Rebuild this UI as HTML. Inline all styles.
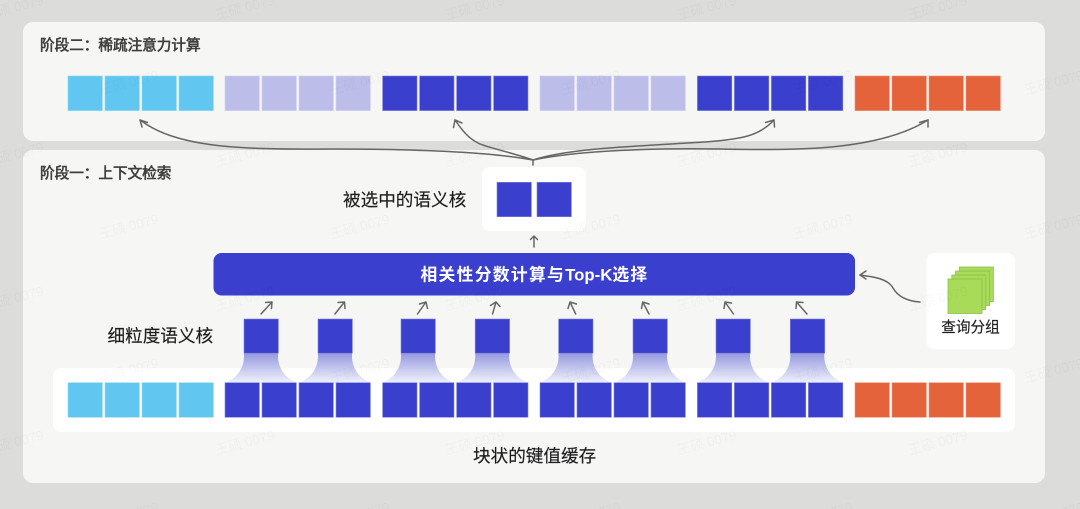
<!DOCTYPE html>
<html lang="zh">
<head>
<meta charset="utf-8">
<title>稀疏注意力</title>
<style>
html,body{margin:0;padding:0;background:#dcdcdb;width:1080px;height:509px;overflow:hidden}
svg{display:block;filter:blur(.35px)}
text{font-family:"Liberation Sans","Noto Sans CJK SC",sans-serif}
.h{font-size:14.6px;fill:#3f3f3f;stroke:#3f3f3f;stroke-width:.6}
.l{font-size:17.6px;fill:#1c1c1c;stroke:#1c1c1c;stroke-width:.15}
.w{font-size:13.5px;fill:#000;fill-opacity:.028;text-anchor:middle}
.a{fill:none;stroke:#666;stroke-width:1.5;stroke-linecap:round;stroke-linejoin:round}
</style>
</head>
<body>
<svg width="1080" height="509" viewBox="0 0 1080 509" xmlns="http://www.w3.org/2000/svg">
<defs>
<g id="c4">
<rect x="0" y="0" width="34.4" height="34.6"/>
<rect x="37" y="0" width="34.4" height="34.6"/>
<rect x="74" y="0" width="34.4" height="34.6"/>
<rect x="111" y="0" width="34.4" height="34.6"/>
</g>
<linearGradient id="f" x1="0" y1="0" x2="0" y2="1">
<stop offset="0" stop-color="#9599de"/>
<stop offset="1" stop-color="#f0f1fb"/>
</linearGradient>
<path id="fn" d="M0 0V3C0 17-9 26-19 29.7H53C43 26 34 17 34 3V0Z" fill="url(#f)"/>
</defs>

<rect width="1080" height="509" fill="#dcdcdb"/>
<rect x="23" y="22" width="1022" height="119" rx="10" fill="#f6f6f5"/>
<rect x="23" y="150" width="1022" height="333" rx="10" fill="#f6f6f5"/>

<text class="h" x="40" y="50">阶段二：稀疏注意力计算</text>
<text class="h" x="40" y="178">阶段一：上下文检索</text>

<!-- top row -->
<g stroke-width=".6">
<use href="#c4" x="68" y="76" fill="#61c7f0" stroke="#8dd7f4"/>
<use href="#c4" x="225" y="76" fill="#bcbee9" stroke="#cfd0f0"/>
<use href="#c4" x="382.6" y="76" fill="#3a3fce" stroke="#7f83dd"/>
<use href="#c4" x="540" y="76" fill="#bcbee9" stroke="#cfd0f0"/>
<use href="#c4" x="697.4" y="76" fill="#3a3fce" stroke="#7f83dd"/>
<use href="#c4" x="855" y="76" fill="#e4633a" stroke="#ec9274"/>
</g>

<!-- white band -->
<rect x="53" y="368" width="962" height="64" rx="8" fill="#fff"/>

<!-- funnels -->
<use href="#fn" x="244" y="353"/>
<use href="#fn" x="318" y="353"/>
<use href="#fn" x="401" y="353"/>
<use href="#fn" x="475.2" y="353"/>
<use href="#fn" x="558.6" y="353"/>
<use href="#fn" x="633" y="353"/>
<use href="#fn" x="716" y="353"/>
<use href="#fn" x="790.3" y="353"/>

<!-- bottom row -->
<g stroke-width=".6">
<use href="#c4" x="68" y="382.7" fill="#61c7f0" stroke="#8dd7f4"/>
<use href="#c4" x="225" y="382.7" fill="#3a3fce" stroke="#7f83dd"/>
<use href="#c4" x="382.6" y="382.7" fill="#3a3fce" stroke="#7f83dd"/>
<use href="#c4" x="540" y="382.7" fill="#3a3fce" stroke="#7f83dd"/>
<use href="#c4" x="697.4" y="382.7" fill="#3a3fce" stroke="#7f83dd"/>
<use href="#c4" x="855" y="382.7" fill="#e4633a" stroke="#ec9274"/>
</g>

<!-- small cells -->
<g fill="#3a3fce" stroke="#7f83dd" stroke-width=".6">
<rect x="244" y="319" width="34.4" height="34.2"/>
<rect x="318" y="319" width="34.4" height="34.2"/>
<rect x="401" y="319" width="34.4" height="34.2"/>
<rect x="475.2" y="319" width="34.4" height="34.2"/>
<rect x="558.6" y="319" width="34.4" height="34.2"/>
<rect x="633" y="319" width="34.4" height="34.2"/>
<rect x="716" y="319" width="34.4" height="34.2"/>
<rect x="790.3" y="319" width="34.4" height="34.2"/>
</g>

<!-- bar -->
<rect x="213.5" y="253" width="641.5" height="42.5" rx="8" fill="#3a3fce"/>
<text x="534.5" y="280.5" text-anchor="middle" font-size="16.8" font-weight="700" fill="#fff" letter-spacing="1.3">相关性分数计算与<tspan letter-spacing="0">Top-K</tspan>选择</text>

<!-- selected -->
<rect x="482" y="167" width="104" height="64" rx="8" fill="#fff"/>
<g fill="#3a3fce" stroke="#7f83dd" stroke-width=".6">
<rect x="497" y="182.300" width="34.4" height="34.4"/>
<rect x="537" y="182.300" width="34.4" height="34.4"/>
</g>

<!-- query -->
<rect x="926.4" y="253" width="88.6" height="96" rx="8" fill="#fff"/>
<g fill="#a8dc58" stroke="#8cc04a" stroke-width=".8">
<rect x="959.4" y="267" width="34" height="34.5"/>
<rect x="955.6" y="271" width="34" height="34.5"/>
<rect x="951.8" y="275" width="34" height="34.5"/>
<rect x="948" y="279" width="34" height="34.5"/>
</g>
<text x="970.5" y="332" text-anchor="middle" font-size="14.6" fill="#1c1c1c" stroke="#1c1c1c" stroke-width=".15">查询分组</text>

<!-- labels -->
<text class="l" x="343" y="206">被选中的语义核</text>
<text class="l" x="107.5" y="342">细粒度语义核</text>
<text class="l" x="473" y="462">块状的键值缓存</text>

<!-- top connectors -->
<g class="a">
<path d="M533 165V160"/>
<path d="M533 160C490 152 420 149 330 149C230 150 175 146 140 120"/>
<path d="M533 160C510 152 485 147 478 143C468 138 462 130 455 120"/>
<path d="M533 160C570 148 640 146 705 142C745 139 760 135 774 120"/>
<path d="M533 160C580 150 660 148 720 149C800 151 880 150 928 120"/>
<path d="M147.500 122.500L140 120L142 127"/>
<path d="M453.500 127.500L455 120L462 123"/>
<path d="M765.500 122.500L774 120L774.500 127"/>
<path d="M919.500 122.500L928 120L928 127"/>
<!-- up arrow -->
<path d="M534 247V236M530.500 239.500L534 236L537.500 239.500"/>
<!-- query arrow -->
<path d="M920 302C905 301 897 295 893 288C888 279 875 277 860 275"/>
<path d="M866 271L860 275L866 279"/>
<!-- small arrows -->
<path d="M261 314L272 302M265.500 302.500L272 302L271.500 308.500"/>
<path d="M335 314L344.500 302M338 302.500L344.500 302L345 308.500"/>
<path d="M417.500 314L426 302M419.500 304L426 302L427.500 308.500"/>
<path d="M492.500 314L496 302M490.500 305.500L496 302L500 306.500"/>
<path d="M575.700 314L570 302M568 308.500L570 302L576.500 304"/>
<path d="M649 314L642.700 302M641.500 308.500L642.700 302L649 304"/>
<path d="M733.500 314L725 302M724 308.500L725 302L731.500 303"/>
<path d="M807 314L796.500 302M796 308.500L796.500 302L803 302.500"/>
</g>

<!-- watermarks -->
<g transform="translate(0 3)">
<text class="w" transform="translate(15 9) rotate(-15)">王硕 0079</text>
<text class="w" transform="translate(246 9) rotate(-15)">王硕 0079</text>
<text class="w" transform="translate(476 9) rotate(-15)">王硕 0079</text>
<text class="w" transform="translate(708 9) rotate(-15)">王硕 0079</text>
<text class="w" transform="translate(939 9) rotate(-15)">王硕 0079</text>
<text class="w" transform="translate(130 84) rotate(-15)">王硕 0079</text>
<text class="w" transform="translate(361 84) rotate(-15)">王硕 0079</text>
<text class="w" transform="translate(592 84) rotate(-15)">王硕 0079</text>
<text class="w" transform="translate(824 84) rotate(-15)">王硕 0079</text>
<text class="w" transform="translate(1055 84) rotate(-15)">王硕 0079</text>
<text class="w" transform="translate(15 156) rotate(-15)">王硕 0079</text>
<text class="w" transform="translate(246 156) rotate(-15)">王硕 0079</text>
<text class="w" transform="translate(476 156) rotate(-15)">王硕 0079</text>
<text class="w" transform="translate(708 156) rotate(-15)">王硕 0079</text>
<text class="w" transform="translate(939 156) rotate(-15)">王硕 0079</text>
<text class="w" transform="translate(130 228) rotate(-15)">王硕 0079</text>
<text class="w" transform="translate(361 228) rotate(-15)">王硕 0079</text>
<text class="w" transform="translate(592 228) rotate(-15)">王硕 0079</text>
<text class="w" transform="translate(824 228) rotate(-15)">王硕 0079</text>
<text class="w" transform="translate(1055 228) rotate(-15)">王硕 0079</text>
<text class="w" transform="translate(15 300) rotate(-15)">王硕 0079</text>
<text class="w" transform="translate(246 300) rotate(-15)">王硕 0079</text>
<text class="w" transform="translate(476 300) rotate(-15)">王硕 0079</text>
<text class="w" transform="translate(708 300) rotate(-15)">王硕 0079</text>
<text class="w" transform="translate(939 300) rotate(-15)">王硕 0079</text>
<text class="w" transform="translate(130 372) rotate(-15)">王硕 0079</text>
<text class="w" transform="translate(361 372) rotate(-15)">王硕 0079</text>
<text class="w" transform="translate(592 372) rotate(-15)">王硕 0079</text>
<text class="w" transform="translate(824 372) rotate(-15)">王硕 0079</text>
<text class="w" transform="translate(1055 372) rotate(-15)">王硕 0079</text>
<text class="w" transform="translate(15 444) rotate(-15)">王硕 0079</text>
<text class="w" transform="translate(246 444) rotate(-15)">王硕 0079</text>
<text class="w" transform="translate(476 444) rotate(-15)">王硕 0079</text>
<text class="w" transform="translate(708 444) rotate(-15)">王硕 0079</text>
<text class="w" transform="translate(939 444) rotate(-15)">王硕 0079</text>
<text class="w" transform="translate(130 516) rotate(-15)">王硕 0079</text>
<text class="w" transform="translate(361 516) rotate(-15)">王硕 0079</text>
<text class="w" transform="translate(592 516) rotate(-15)">王硕 0079</text>
<text class="w" transform="translate(824 516) rotate(-15)">王硕 0079</text>
<text class="w" transform="translate(1055 516) rotate(-15)">王硕 0079</text>
</g>
</svg>
</body>
</html>
